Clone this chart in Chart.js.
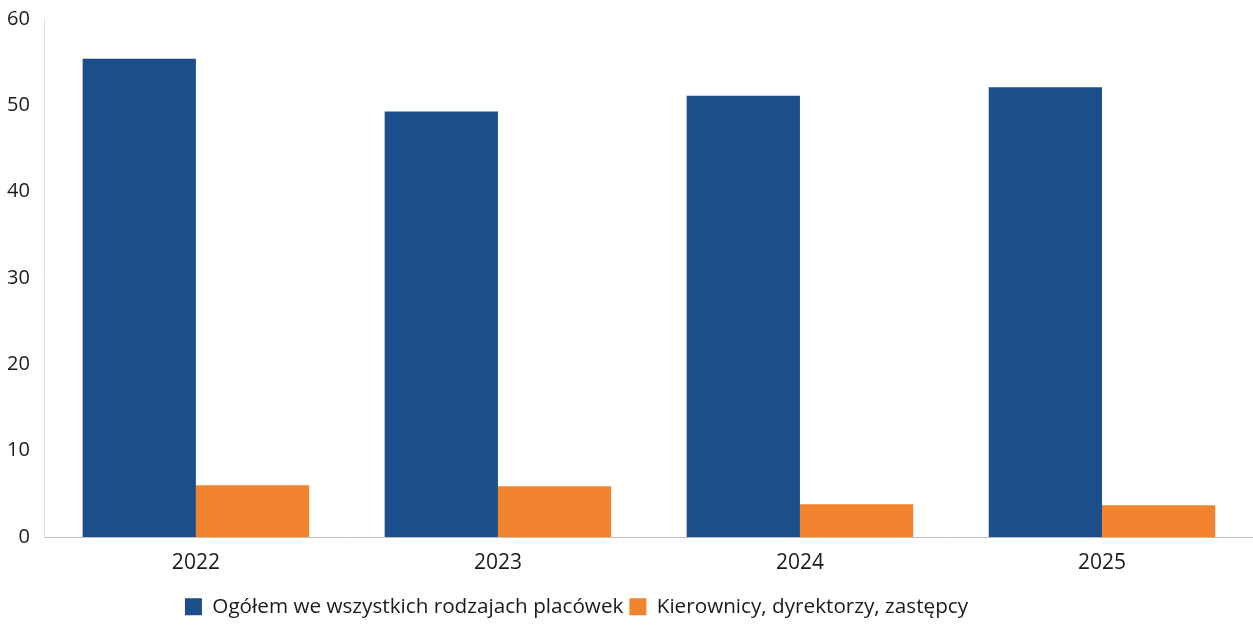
<!DOCTYPE html>
<html>
<head>
<meta charset="utf-8">
<script src="https://cdn.jsdelivr.net/npm/chart.js@4"></script>
<style>
  html, body { margin: 0; padding: 0; background: #fff; }
  #wrap { width: 1253px; height: 626px; }
</style>
</head>
<body>
<div id="wrap"><canvas id="chart"></canvas></div>
<script>
// dane
const years = ['2022', '2023', '2024', '2025'];
const ogolem = [55.4, 49.3, 51.1, 52.1];
const kierownicy = [6.0, 5.9, 3.8, 3.7];
const seriesNames = ['Ogółem we wszystkich rodzajach placówek', 'Kierownicy, dyrektorzy, zastępcy'];

const FONT = "'Open Sans', 'Noto Sans', sans-serif";

// przesuniecie legendy (jak na oryginale)
const legendShift = {
    id: 'legendShift',
    afterLayout(chart) {
        const lg = chart.legend;
        if (lg) { lg.left -= 50; lg.right -= 50; lg.top += 10; lg.bottom += 10; }
    }
};

new Chart(document.getElementById('chart'), {
    type: 'bar',
    data: {
        labels: years,
        datasets: [
            { label: seriesNames[0], data: ogolem, backgroundColor: '#1c4e89' },
            { label: seriesNames[1], data: kierownicy, backgroundColor: '#f2842f' }
        ]
    },
    options: {
        responsive: true,
        maintainAspectRatio: false,
        animation: false,
        layout: { padding: { top: 7, right: 0, left: 0, bottom: 9 } },
        datasets: { bar: { categoryPercentage: 0.75, barPercentage: 1.0 } },
        scales: {
            x: {
                grid: { display: false },
                border: { color: '#bdbdbd', width: 1 },
                ticks: { color: '#1a1a1a', font: { family: FONT, size: 21 }, padding: 5 }
            },
            y: {
                min: 0, max: 60,
                grid: { display: false },
                border: { color: '#dedede', width: 1 },
                ticks: { stepSize: 10, color: '#1a1a1a', font: { family: FONT, size: 20 }, padding: 7 }
            }
        },
        plugins: {
            tooltip: { enabled: false },
            legend: {
                position: 'bottom',
                labels: {
                    boxWidth: 17, boxHeight: 17, padding: 6,
                    color: '#1a1a1a',
                    font: { family: FONT, size: 20.7 }
                }
            }
        }
    },
    plugins: [legendShift]
});
</script>
</body>
</html>
